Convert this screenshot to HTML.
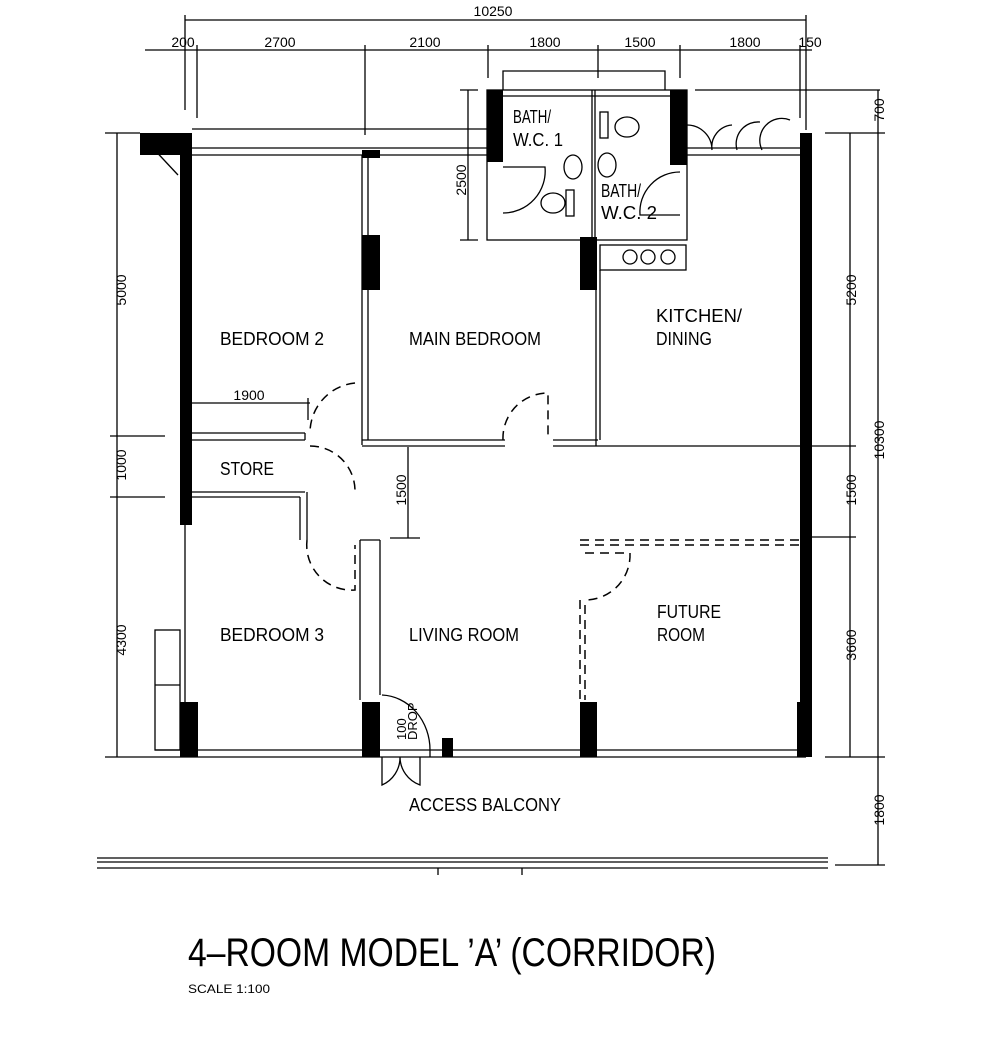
<!DOCTYPE html>
<html><head><meta charset="utf-8"><style>
html,body{margin:0;padding:0;background:#fff}
svg{display:block}
text{font-family:"Liberation Sans",sans-serif;fill:#000}
</style></head><body>
<svg width="984" height="1039" viewBox="0 0 984 1039" xmlns="http://www.w3.org/2000/svg">
<g stroke="#000" stroke-width="1.3" fill="none">
<line x1="185" y1="20" x2="806" y2="20"/>
<line x1="185" y1="15" x2="185" y2="110"/><line x1="806" y1="15" x2="806" y2="130"/>
<line x1="145" y1="50" x2="812" y2="50"/>
<line x1="197" y1="45" x2="197" y2="118"/>
<line x1="365" y1="45" x2="365" y2="135"/>
<line x1="488" y1="45" x2="488" y2="78"/>
<line x1="598" y1="45" x2="598" y2="78"/>
<line x1="680" y1="45" x2="680" y2="78"/>
<line x1="800" y1="45" x2="800" y2="118"/>
<polyline points="503,90 503,71 665,71 665,90"/>
<line x1="695" y1="90" x2="880" y2="90"/>
<line x1="117" y1="133" x2="117" y2="757"/>
<line x1="105" y1="133" x2="140" y2="133"/>
<line x1="110" y1="436" x2="165" y2="436"/>
<line x1="110" y1="497" x2="165" y2="497"/>
<line x1="105" y1="757" x2="155" y2="757"/>
<line x1="850" y1="133" x2="850" y2="757"/>
<line x1="878" y1="90" x2="878" y2="865"/>
<line x1="825" y1="133" x2="885" y2="133"/>
<line x1="812" y1="446" x2="856" y2="446"/>
<line x1="812" y1="537" x2="856" y2="537"/>
<line x1="825" y1="757" x2="885" y2="757"/>
<line x1="835" y1="865" x2="885" y2="865"/>
<line x1="468" y1="90" x2="468" y2="240"/>
<line x1="460" y1="90" x2="478" y2="90"/><line x1="460" y1="240" x2="478" y2="240"/>
<line x1="408" y1="447" x2="408" y2="538"/><line x1="390" y1="538" x2="420" y2="538"/>
<line x1="192" y1="403" x2="310" y2="403"/><line x1="308" y1="398" x2="308" y2="420"/>
<line x1="192" y1="129" x2="487" y2="129"/>
<line x1="192" y1="148" x2="487" y2="148"/>
<line x1="192" y1="155" x2="487" y2="155"/>
<line x1="687" y1="148" x2="800" y2="148"/>
<line x1="687" y1="155" x2="800" y2="155"/>
<rect x="487" y="90" width="200" height="150"/>
<line x1="592" y1="90" x2="592" y2="240"/><line x1="595" y1="90" x2="595" y2="240"/>
<line x1="490" y1="96" x2="684" y2="96"/>
<ellipse cx="573" cy="167" rx="9" ry="12"/><ellipse cx="607" cy="165" rx="9" ry="12"/>
<ellipse cx="553" cy="203" rx="12" ry="10"/><rect x="566" y="190" width="8" height="26"/>
<ellipse cx="627" cy="127" rx="12" ry="10"/><rect x="600" y="112" width="8" height="26"/>
<path d="M503 167 L545 167 A42 42 0 0 1 503 213"/>
<path d="M680 172 A40 40 0 0 0 640 215 L680 215"/>
<rect x="600" y="245" width="86" height="25"/>
<circle cx="630" cy="257" r="7"/><circle cx="648" cy="257" r="7"/><circle cx="668" cy="257" r="7"/>
<path d="M687 125 A25 25 0 0 1 712 150 M712 150 A22 22 0 0 1 732 125 M737 150 A22 22 0 0 1 760 122 M762 150 A22 22 0 0 1 790 120"/>
<line x1="362" y1="155" x2="362" y2="445"/><line x1="368" y1="155" x2="368" y2="440"/>
<line x1="362" y1="440" x2="505" y2="440"/><line x1="362" y1="446" x2="505" y2="446"/>
<line x1="553" y1="440" x2="598" y2="440"/><line x1="553" y1="446" x2="806" y2="446"/>
<line x1="596" y1="240" x2="596" y2="446"/><line x1="600" y1="270" x2="600" y2="440"/>
<line x1="192" y1="433" x2="305" y2="433"/><line x1="192" y1="440" x2="305" y2="440"/>
<line x1="305" y1="433" x2="305" y2="440"/>
<line x1="192" y1="492" x2="305" y2="492"/><line x1="192" y1="497" x2="300" y2="497"/>
<line x1="300" y1="497" x2="300" y2="540"/><line x1="307" y1="492" x2="307" y2="540"/>
<line x1="185" y1="525" x2="185" y2="750"/>
<line x1="360" y1="540" x2="380" y2="540"/>
<line x1="360" y1="540" x2="360" y2="700"/><line x1="380" y1="540" x2="380" y2="695"/>
<rect x="155" y="630" width="25" height="120"/><line x1="155" y1="685" x2="180" y2="685"/>
<line x1="155" y1="750" x2="806" y2="750"/><line x1="155" y1="757" x2="806" y2="757"/>
<line x1="97" y1="858" x2="828" y2="858"/><line x1="97" y1="862" x2="828" y2="862"/><line x1="97" y1="868" x2="828" y2="868"/>
<line x1="438" y1="868" x2="438" y2="875"/><line x1="522" y1="868" x2="522" y2="875"/>
<path d="M382 695 A50 55 0 0 1 430 750 L430 757"/>
<path d="M382 757 L382 785 A30 30 0 0 0 400 757 A30 30 0 0 0 420 785 L420 757"/>
<line x1="150" y1="145" x2="178" y2="175"/>
</g>
<g stroke="#000" stroke-width="1.5" fill="none" stroke-dasharray="9,6">
<path d="M355 383 A50 50 0 0 0 310 433"/>
<path d="M310 446 A45 45 0 0 1 355 492"/>
<path d="M503 440 A45 45 0 0 1 548 393 L548 440"/>
<path d="M307 540 A45 45 0 0 0 355 590 L355 545"/>
<path d="M580 540 L806 540 M580 545 L806 545"/>
<path d="M585 553 L630 553 A45 45 0 0 1 585 600"/>
<path d="M580 600 L580 700 M585 605 L585 700"/>
</g>
<g fill="#000">
<rect x="180" y="133" width="12" height="392"/>
<rect x="140" y="133" width="52" height="22"/>
<rect x="800" y="133" width="12" height="624"/>
<rect x="487" y="90" width="16" height="72"/>
<rect x="670" y="90" width="17" height="75"/>
<rect x="362" y="150" width="18" height="8"/>
<rect x="362" y="235" width="18" height="55"/>
<rect x="580" y="237" width="17" height="53"/>
<rect x="180" y="702" width="18" height="55"/>
<rect x="362" y="702" width="18" height="55"/>
<rect x="580" y="702" width="17" height="55"/>
<rect x="797" y="702" width="15" height="55"/>
<rect x="442" y="738" width="11" height="19"/>
</g>
<g font-size="14" text-anchor="middle">
<text x="493" y="16">10250</text>
<text x="183" y="47">200</text>
<text x="280" y="47">2700</text>
<text x="425" y="47">2100</text>
<text x="545" y="47">1800</text>
<text x="640" y="47">1500</text>
<text x="745" y="47">1800</text>
<text x="810" y="47">150</text>
<text x="249" y="400">1900</text>
<text transform="translate(126,290) rotate(-90)">5000</text>
<text transform="translate(126,465) rotate(-90)">1000</text>
<text transform="translate(126,640) rotate(-90)">4300</text>
<text transform="translate(466,180) rotate(-90)">2500</text>
<text transform="translate(406,490) rotate(-90)">1500</text>
<text transform="translate(856,290) rotate(-90)">5200</text>
<text transform="translate(884,440) rotate(-90)">10300</text>
<text transform="translate(856,490) rotate(-90)">1500</text>
<text transform="translate(856,645) rotate(-90)">3600</text>
<text transform="translate(884,110) rotate(-90)">700</text>
<text transform="translate(884,810) rotate(-90)">1800</text>
</g>
<text transform="translate(406,740) rotate(-90)" font-size="13">100</text>
<text transform="translate(417,740) rotate(-90)" font-size="13">DROP</text>
<g font-size="18">
<text x="220" y="345" textLength="104" lengthAdjust="spacingAndGlyphs">BEDROOM 2</text>
<text x="409" y="345" textLength="132" lengthAdjust="spacingAndGlyphs">MAIN BEDROOM</text>
<text x="656" y="322" textLength="86" lengthAdjust="spacingAndGlyphs">KITCHEN/</text>
<text x="656" y="345" textLength="56" lengthAdjust="spacingAndGlyphs">DINING</text>
<text x="220" y="475" textLength="54" lengthAdjust="spacingAndGlyphs">STORE</text>
<text x="220" y="641" textLength="104" lengthAdjust="spacingAndGlyphs">BEDROOM 3</text>
<text x="409" y="641" textLength="110" lengthAdjust="spacingAndGlyphs">LIVING ROOM</text>
<text x="657" y="618" textLength="64" lengthAdjust="spacingAndGlyphs">FUTURE</text>
<text x="657" y="641" textLength="48" lengthAdjust="spacingAndGlyphs">ROOM</text>
<text x="409" y="811" textLength="152" lengthAdjust="spacingAndGlyphs">ACCESS BALCONY</text>
<text x="513" y="123" textLength="38" lengthAdjust="spacingAndGlyphs">BATH/</text>
<text x="513" y="146" textLength="50" lengthAdjust="spacingAndGlyphs">W.C. 1</text>
<text x="601" y="197" textLength="40" lengthAdjust="spacingAndGlyphs">BATH/</text>
<text x="601" y="219" textLength="56" lengthAdjust="spacingAndGlyphs">W.C. 2</text>
</g>
<text x="188" y="966" font-size="40" textLength="528" lengthAdjust="spacingAndGlyphs">4–ROOM MODEL ’A’ (CORRIDOR)</text>
<text x="188" y="993" font-size="12" textLength="82" lengthAdjust="spacingAndGlyphs">SCALE 1:100</text>
</svg>
</body></html>
